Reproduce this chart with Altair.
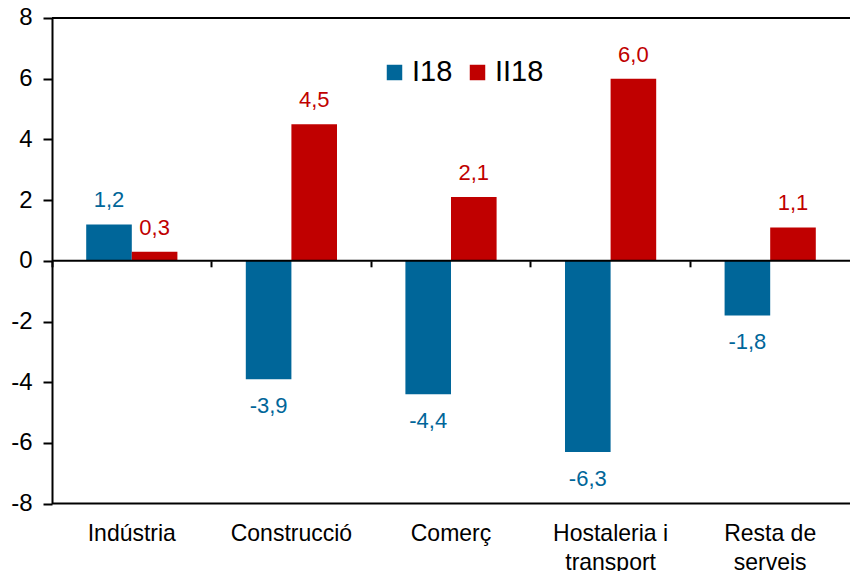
import altair as alt
import pandas as pd

categories = ["Indústria", "Construcció", "Comerç", "Hostaleria i|transport", "Resta de|serveis"]
series = ["I18", "II18"]
values_i18 = [1.2, -3.9, -4.4, -6.3, -1.8]
values_ii18 = [0.3, 4.5, 2.1, 6.0, 1.1]
colors = ["#006699", "#C00000"]
frame_lines = [8, 0, -8]
y_ticks = [-8, -6, -4, -2, 0, 2, 4, 6, 8]

FONT = "Arial, Liberation Sans, sans-serif"

rows = []
for c, a, b in zip(categories, values_i18, values_ii18):
    rows.append({"cat": c, "series": "I18", "v": a, "lab": f"{a:.1f}".replace(".", ",")})
    rows.append({"cat": c, "series": "II18", "v": b, "lab": f"{b:.1f}".replace(".", ",")})
df = pd.DataFrame(rows)
lines_df = pd.DataFrame({"v": frame_lines})

x_scale = alt.Scale(paddingInner=0, paddingOuter=0)
xo_scale = alt.Scale(paddingInner=0, paddingOuter=0.75)
y_scale = alt.Scale(domain=[-8, 8], nice=False)
color_scale = alt.Scale(domain=series, range=colors)

base = alt.Chart(df)

bars = base.mark_bar().encode(
    x=alt.X("cat:N", sort=categories, scale=x_scale, title=None,
            axis=alt.Axis(labelExpr="split(datum.label, '|')", domain=False, ticks=False,
                          labelFont=FONT, labelFontSize=23, labelColor="black",
                          labelPadding=19, labelAngle=0, labelLineHeight=29, labelBaseline="top")),
    xOffset=alt.XOffset("series:N", sort=series, scale=xo_scale),
    y=alt.Y("v:Q", scale=y_scale, title=None,
            axis=alt.Axis(values=y_ticks, grid=False, domainColor="black", domainWidth=2,
                          tickColor="black", tickWidth=2, tickSize=9, labelFontSize=24,
                          labelExpr="replace(datum.label, '\u2212', '-')",
                          labelFont=FONT, labelColor="black", labelPadding=11)),
    color=alt.Color("series:N", scale=color_scale, sort=series, title=None,
                    legend=alt.Legend(orient="none", legendX=328, legendY=40, direction="horizontal",
                                      symbolType="square", symbolSize=240, symbolStrokeWidth=0,
                                      labelFontSize=29, labelFont=FONT, labelColor="black",
                                      labelOffset=3, columnPadding=10, padding=0, gridAlign="none")),
)

pos_text = base.transform_filter("datum.v >= 0").mark_text(
    baseline="alphabetic", dy=-17, fontSize=22, font=FONT
).encode(
    x=alt.X("cat:N", sort=categories, scale=x_scale,
            axis=alt.Axis(orient="bottom", offset=-242.8, labels=False, domain=False, ticks=True,
                          bandPosition=0, tickSize=6, tickWidth=2, tickColor="black", title=None)),
    xOffset=alt.XOffset("series:N", sort=series, scale=xo_scale),
    y=alt.Y("v:Q", scale=y_scale),
    text="lab:N",
    color=alt.Color("series:N", scale=color_scale, sort=series, legend=None),
)

neg_text = base.transform_filter("datum.v < 0").mark_text(
    baseline="alphabetic", dy=34, fontSize=22, font=FONT
).encode(
    x=alt.X("cat:N", sort=categories, scale=x_scale, axis=None),
    xOffset=alt.XOffset("series:N", sort=series, scale=xo_scale),
    y=alt.Y("v:Q", scale=y_scale),
    text="lab:N",
    color=alt.Color("series:N", scale=color_scale, sort=series, legend=None),
)

rules = alt.Chart(lines_df).mark_rule(color="black", strokeWidth=2).encode(
    y=alt.Y("v:Q", scale=y_scale)
)

chart = alt.layer(bars, pos_text, neg_text, rules).resolve_axis(x="independent").properties(
    width=798, height=485.6,
    autosize=alt.AutoSizeParams(type="none"),
    padding={"left": 44, "top": 10, "right": 0, "bottom": 72},
).configure_view(stroke=None)

chart.save("out.html", embed_options={"renderer": "svg", "actions": False})
